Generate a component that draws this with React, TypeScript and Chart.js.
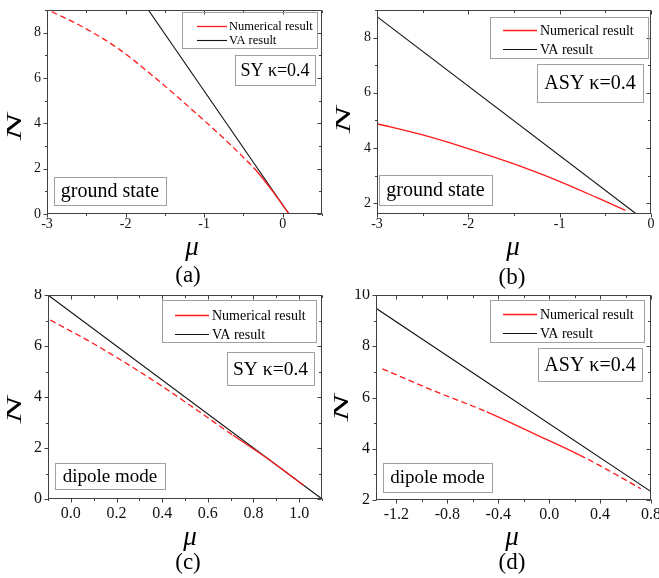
import React, { useEffect, useRef } from 'react';
import { Chart, registerables } from 'chart.js';
Chart.register(...registerables);

// ---------- (a) SY, ground state ----------
const muNumA = [-2.94, -2.5, -2.07, -1.69, -1.35, -1.05, -0.73, -0.4, -0.34, -0.16, 0.08];
const nNumA = [8.93, 8.17, 7.24, 6.2, 5.2, 4.28, 3.27, 2.15, 1.93, 1.15, 0];
const muVaA = [-1.71, 0.08];
const nVaA = [9, 0];
const xTicksA = [-3, -2, -1, 0];
const xLabelsA = ['-3', '-2', '-1', '0'];
const xMinorA = [-2.5, -1.5, -0.5, 0.5];
const yTicksA = [0, 2, 4, 6, 8];
const yLabelsA = ['0', '2', '4', '6', '8'];
const yMinorA = [1, 3, 5, 7, 9];
const dashA = [[-3.1, -0.34]];

// ---------- (b) ASY, ground state ----------
const muNumB = [-3, -2.53, -2.02, -1.54, -1.03, -0.59, -0.28];
const nNumB = [4.88, 4.5, 4.0, 3.47, 2.83, 2.2, 1.74];
const muVaB = [-3, -0.16];
const nVaB = [8.76, 1.61];
const xTicksB = [-3, -2, -1, 0];
const xLabelsB = ['-3', '-2', '-1', '0'];
const xMinorB = [-2.5, -1.5, -0.5];
const yTicksB = [2, 4, 6, 8];
const yLabelsB = ['2', '4', '6', '8'];
const yMinorB = [3, 5, 7, 9];
const dashB: number[][] = [];

// ---------- (c) SY, dipole mode ----------
const muNumC = [-0.09, 0.07, 0.23, 0.39, 0.55, 0.71, 0.86, 0.98, 1.02];
const nNumC = [7.02, 6.24, 5.39, 4.48, 3.5, 2.5, 1.6, 0.8, 0.53];
const muVaC = [-0.1, 1.1];
const nVaC = [8, 0];
const xTicksC = [0, 0.2, 0.4, 0.6, 0.8, 1.0];
const xLabelsC = ['0.0', '0.2', '0.4', '0.6', '0.8', '1.0'];
const xMinorC = [-0.1, 0.1, 0.3, 0.5, 0.7, 0.9, 1.1];
const yTicksC = [0, 2, 4, 6, 8];
const yLabelsC = ['0', '2', '4', '6', '8'];
const yMinorC = [1, 3, 5, 7];
const dashC = [[-0.2, 0.71]];

// ---------- (d) ASY, dipole mode ----------
const muNumD = [-1.31, -0.9, -0.49, -0.12, 0.24, 0.48, 0.72];
const nNumD = [7.12, 6.25, 5.44, 4.59, 3.75, 3.12, 2.44];
const muVaD = [-1.36, 0.8];
const nVaD = [9.48, 2.33];
const xTicksD = [-1.2, -0.8, -0.4, 0, 0.4, 0.8];
const xLabelsD = ['-1.2', '-0.8', '-0.4', '0.0', '0.4', '0.8'];
const xMinorD = [-1.0, -0.6, -0.2, 0.2, 0.6];
const yTicksD = [2, 4, 6, 8, 10];
const yLabelsD = ['2', '4', '6', '8', '10'];
const yMinorD = [3, 5, 7, 9];
const dashD = [[-1.4, -0.49], [0.24, 0.9]];

const seriesNames = ['Numerical result', 'VA result'];
const RED = '#ff1a1a';
const BLACK = '#111111';
const FONT = '"Liberation Serif", "Times New Roman", serif';

type Panel = {
  ox: number; oy: number; w: number; h: number;
  plot: [number, number, number, number];
  xr: [number, number]; yr: [number, number];
  muNum: number[]; nNum: number[]; muVa: number[]; nVa: number[];
  xTicks: number[]; xLabels: string[]; xMinor: number[];
  yTicks: number[]; yLabels: string[]; yMinor: number[];
  dash: number[][];
  tickFont: number; xPad: number;
  legend: { box: number[]; lx: [number, number]; ly: [number, number]; tx: number; fs: number };
  tag: { box: number[]; text: string; fs: number };
  mode: { box: number[]; text: string; fs: number };
  nPos: [number, number]; muPos: [number, number]; lab: { pos: [number, number]; text: string };
};

const panels: Panel[] = [
  {
    ox: 0, oy: 0, w: 330, h: 289, plot: [47, 10, 322, 214], xr: [-3, 0.5], yr: [0, 9],
    muNum: muNumA, nNum: nNumA, muVa: muVaA, nVa: nVaA,
    xTicks: xTicksA, xLabels: xLabelsA, xMinor: xMinorA,
    yTicks: yTicksA, yLabels: yLabelsA, yMinor: yMinorA, dash: dashA,
    tickFont: 14, xPad: 2,
    legend: { box: [182, 12, 317, 48], lx: [197, 227], ly: [26, 40], tx: 229, fs: 12.5 },
    tag: { box: [235, 55, 315, 85], text: 'SY κ=0.4', fs: 18 },
    mode: { box: [54, 177, 166, 205], text: 'ground state', fs: 20 },
    nPos: [15, 127], muPos: [192, 248], lab: { pos: [188, 276], text: '(a)' },
  },
  {
    ox: 330, oy: 0, w: 329, h: 289, plot: [47, 10, 321, 214], xr: [-3, 0], yr: [1.61, 9],
    muNum: muNumB, nNum: nNumB, muVa: muVaB, nVa: nVaB,
    xTicks: xTicksB, xLabels: xLabelsB, xMinor: xMinorB,
    yTicks: yTicksB, yLabels: yLabelsB, yMinor: yMinorB, dash: dashB,
    tickFont: 14, xPad: 2,
    legend: { box: [160, 17, 318, 58], lx: [173, 207], ly: [30, 49], tx: 210, fs: 14 },
    tag: { box: [207, 64, 313, 102], text: 'ASY κ=0.4', fs: 20 },
    mode: { box: [49, 175, 162, 205], text: 'ground state', fs: 20 },
    nPos: [14, 120], muPos: [183, 248], lab: { pos: [182, 278], text: '(b)' },
  },
  {
    ox: 0, oy: 289, w: 330, h: 289, plot: [48, 6, 322, 210], xr: [-0.1, 1.1], yr: [0, 8],
    muNum: muNumC, nNum: nNumC, muVa: muVaC, nVa: nVaC,
    xTicks: xTicksC, xLabels: xLabelsC, xMinor: xMinorC,
    yTicks: yTicksC, yLabels: yLabelsC, yMinor: yMinorC, dash: dashC,
    tickFont: 16, xPad: 5,
    legend: { box: [162, 11, 316, 53], lx: [175, 209], ly: [26, 45], tx: 212, fs: 14 },
    tag: { box: [227, 63, 314, 96], text: 'SY κ=0.4', fs: 19.5 },
    mode: { box: [55, 174, 165, 200], text: 'dipole mode', fs: 19 },
    nPos: [15, 121], muPos: [190, 249], lab: { pos: [188, 274], text: '(c)' },
  },
  {
    ox: 330, oy: 289, w: 329, h: 289, plot: [46, 6, 321, 211], xr: [-1.36, 0.8], yr: [2, 10],
    muNum: muNumD, nNum: nNumD, muVa: muVaD, nVa: nVaD,
    xTicks: xTicksD, xLabels: xLabelsD, xMinor: xMinorD,
    yTicks: yTicksD, yLabels: yLabelsD, yMinor: yMinorD, dash: dashD,
    tickFont: 16, xPad: 5,
    legend: { box: [160, 11, 314, 53], lx: [173, 207], ly: [25, 44], tx: 210, fs: 14 },
    tag: { box: [208, 59, 312, 92], text: 'ASY κ=0.4', fs: 20 },
    mode: { box: [53, 174, 162, 203], text: 'dipole mode', fs: 19 },
    nPos: [12, 119], muPos: [182, 249], lab: { pos: [182, 274], text: '(d)' },
  },
];

const XH = 20;

function makeDeco(p: Panel) {
  return {
    id: 'deco',
    afterDraw(chart: any) {
      const ctx: CanvasRenderingContext2D = chart.ctx;
      const { left, right, top, bottom } = chart.chartArea;
      const xs = chart.scales.x;
      const ys = chart.scales.y;
      const L = Math.round(left) + 0.5, R = Math.round(right) - 0.5;
      const T = Math.round(top) + 0.5, B = Math.round(bottom) - 0.5;
      ctx.save();
      // frame
      ctx.strokeStyle = '#404040';
      ctx.lineWidth = 1;
      ctx.strokeRect(L, T, R - L, B - T);
      // ticks
      const tickX = (v: number, len: number) => {
        const px = Math.round(xs.getPixelForValue(v)) + 0.5;
        if (px < L - 1 || px > R + 1) return;
        ctx.beginPath();
        ctx.moveTo(px, B); ctx.lineTo(px, B + len);
        ctx.moveTo(px, T); ctx.lineTo(px, T + len);
        ctx.stroke();
      };
      const tickY = (v: number, len: number) => {
        const py = Math.round(ys.getPixelForValue(v)) + 0.5;
        if (py < T - 1 || py > B + 1) return;
        ctx.beginPath();
        ctx.moveTo(L, py); ctx.lineTo(L - len, py);
        ctx.moveTo(R, py); ctx.lineTo(R - len, py);
        ctx.stroke();
      };
      p.xTicks.forEach((v) => tickX(v, 4));
      p.xMinor.forEach((v) => tickX(v, 2.5));
      p.yTicks.forEach((v) => tickY(v, 4));
      p.yMinor.forEach((v) => tickY(v, 2.5));

      // legend box
      const lg = p.legend;
      ctx.strokeStyle = '#a0a0a0';
      ctx.strokeRect(lg.box[0] + 0.5, lg.box[1] + 0.5, lg.box[2] - lg.box[0], lg.box[3] - lg.box[1]);
      const ds = chart.data.datasets;
      ds.forEach((d: any, i: number) => {
        ctx.strokeStyle = d.borderColor;
        ctx.lineWidth = d.borderWidth;
        ctx.setLineDash([]);
        ctx.beginPath();
        ctx.moveTo(lg.lx[0], lg.ly[i] + 0.5);
        ctx.lineTo(lg.lx[1], lg.ly[i] + 0.5);
        ctx.stroke();
        ctx.fillStyle = '#000';
        ctx.font = `${lg.fs}px ${FONT}`;
        ctx.textAlign = 'left';
        ctx.textBaseline = 'middle';
        ctx.fillText(d.label, lg.tx, lg.ly[i] + 1);
      });

      // annotation boxes
      ctx.lineWidth = 1;
      [p.tag, p.mode].forEach((bx) => {
        const b = bx.box;
        ctx.strokeStyle = '#a0a0a0';
        ctx.strokeRect(b[0] + 0.5, b[1] + 0.5, b[2] - b[0], b[3] - b[1]);
        ctx.fillStyle = '#000';
        ctx.font = `${bx.fs}px ${FONT}`;
        ctx.textAlign = 'center';
        ctx.textBaseline = 'middle';
        ctx.fillText(bx.text, (b[0] + b[2]) / 2, (b[1] + b[3]) / 2 + 1);
      });

      // axis titles
      ctx.fillStyle = '#000';
      ctx.save();
      ctx.translate(p.nPos[0], p.nPos[1]);
      ctx.rotate(-Math.PI / 2);
      ctx.font = `italic 21px ${FONT}`;
      const wN = ctx.measureText('N').width;
      ctx.scale(27 / wN, 1);
      ctx.textAlign = 'center';
      ctx.textBaseline = 'middle';
      ctx.fillText('N', 0, 0);
      ctx.restore();

      ctx.font = `italic 27px ${FONT}`;
      ctx.textAlign = 'center';
      ctx.textBaseline = 'middle';
      ctx.fillText('μ', p.muPos[0], p.muPos[1]);
      ctx.font = `23px ${FONT}`;
      ctx.fillText(p.lab.text, p.lab.pos[0], p.lab.pos[1]);
      ctx.restore();
    },
  };
}

function PanelChart({ p }: { p: Panel }) {
  const ref = useRef<HTMLCanvasElement>(null);
  useEffect(() => {
    if (!ref.current) return;
    const [l, t, r, b] = p.plot;
    const isDashed = (x: number) => p.dash.some(([lo, hi]) => x >= lo - 1e-9 && x < hi - 1e-9);
    const chart = new Chart(ref.current, {
      type: 'line',
      data: {
        datasets: [
          {
            label: seriesNames[0],
            data: p.muNum.map((x, i) => ({ x, y: p.nNum[i] })),
            borderColor: RED,
            borderWidth: 1.3,
            pointRadius: 0,
            cubicInterpolationMode: 'monotone',
            borderDash: [],
            segment: {
              borderDash: (ctx: any) => (isDashed(ctx.p0.parsed.x) ? [6, 3.5] : []),
            },
          },
          {
            label: seriesNames[1],
            data: p.muVa.map((x, i) => ({ x, y: p.nVa[i] })),
            borderColor: BLACK,
            borderWidth: 1.1,
            pointRadius: 0,
          },
        ],
      } as any,
      options: {
        responsive: false,
        animation: false,
        events: [],
        layout: { padding: { left: 0, top: t, right: p.w - r, bottom: p.h - b - XH } },
        plugins: { legend: { display: false }, tooltip: { enabled: false }, title: { display: false } },
        scales: {
          x: {
            type: 'linear',
            min: p.xr[0],
            max: p.xr[1],
            grid: { display: false, drawTicks: false },
            border: { display: false },
            afterBuildTicks: (s: any) => { s.ticks = p.xTicks.map((v) => ({ value: v })); },
            afterFit: (s: any) => { s.height = XH; s.paddingLeft = 0; s.paddingRight = 0; },
            ticks: {
              autoSkip: false, maxRotation: 0, minRotation: 0, padding: p.xPad,
              color: '#111', font: { family: FONT, size: p.tickFont },
              callback: (_v: any, i: number) => p.xLabels[i],
            },
          },
          y: {
            type: 'linear',
            min: p.yr[0],
            max: p.yr[1],
            grid: { display: false, drawTicks: false },
            border: { display: false },
            afterBuildTicks: (s: any) => { s.ticks = p.yTicks.map((v) => ({ value: v })); },
            afterFit: (s: any) => { s.width = l; s.paddingTop = 0; s.paddingBottom = 0; },
            ticks: {
              autoSkip: false, padding: 6,
              color: '#111', font: { family: FONT, size: p.tickFont },
              callback: (_v: any, i: number) => p.yLabels[i],
            },
          },
        },
      } as any,
      plugins: [makeDeco(p)],
    });
    return () => chart.destroy();
  }, [p]);
  return (
    <canvas
      ref={ref}
      width={p.w}
      height={p.h}
      style={{ position: 'absolute', left: p.ox, top: p.oy, width: p.w, height: p.h, display: 'block' }}
    />
  );
}

export default function App() {
  return (
    <div style={{ position: 'absolute', left: 0, top: 0, width: 659, height: 578, background: '#fff' }}>
      {panels.map((p, i) => (
        <PanelChart key={i} p={p} />
      ))}
    </div>
  );
}
